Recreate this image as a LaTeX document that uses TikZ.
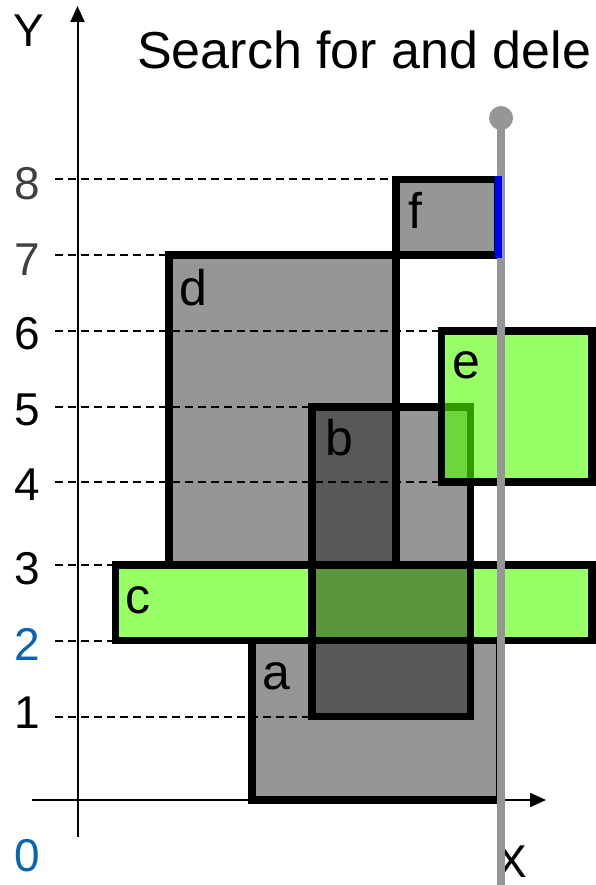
\documentclass[tikz,border=0pt]{standalone}
\usepackage{fontspec}
\setmainfont{Liberation Sans}
\usepackage{xcolor}
\usetikzlibrary{arrows.meta}

\definecolor{boxgray}{RGB}{150,150,150}
\definecolor{boxgreen}{RGB}{153,255,102}
\definecolor{seegreen}{RGB}{85,255,0}
\definecolor{axisblue}{RGB}{10,100,180}
\definecolor{sweepgray}{RGB}{150,150,150}

\begin{document}
\begin{tikzpicture}[x=1pt, y=-1pt,
  rect/.style={draw=black, line width=7.5pt, fill=#1},
  guide/.style={draw=black, line width=2pt, dash pattern=on 8pt off 5pt},
  axis/.style={line width=2pt, -{Triangle[length=16pt,width=14pt]}},
  num/.style={inner sep=0pt, font=\fontsize{46}{50}\selectfont},
  lbl/.style={inner sep=0pt, font=\fontsize{50}{55}\selectfont}
]
\useasboundingbox (0,0) rectangle (596,885);

% axes
\draw[axis] (77.5,837) -- (77.5,6);
\draw[axis] (32,800) -- (546,800);

% rectangles
\draw[rect=boxgray] (169,255) rectangle (396,565);
\draw[rect=boxgray] (252,640.5) rectangle (500,800);
\draw[rect=boxgray] (396,179.5) rectangle (498,255);
\draw[rect=boxgreen] (115.5,565) rectangle (592,640.5);
\begin{scope}[blend mode=multiply]
  \draw[rect=boxgray] (312,407) rectangle (470.5,716.5);
\end{scope}
\draw[rect=seegreen, fill opacity=0.6] (441.5,331) rectangle (592,482);

% guide lines
\foreach \yy/\xe in {179.5/396, 255/169, 331/441.5, 407/312, 482/441.5,
    565/115.5, 640.5/115.5, 716.5/312}
  \draw[guide] (55,\yy) -- (\xe,\yy);

% tick labels
\foreach \v/\yy/\col in {8/183.5/black!75, 7/260/black!75, 6/334/black,
    5/409.5/black, 4/485/black, 3/569/black, 2/644/axisblue,
    1/712.5/black, 0/856/axisblue}
  \node[num, text=\col] (n\v) at (27,\yy) {\v};
\node[num] (ylbl) at (28.5,31) {Y};
\node[num] (xlbl) at (512,862) {X};

% box letters
\node[lbl] (la) at (276.5,676) {a};
\node[lbl] (lb) at (339.5,437.5) {b};
\node[lbl] (lc) at (137.5,600.5) {c};
\node[lbl] (ld) at (193.5,287.5) {d};
\node[lbl] (le) at (466,365) {e};
\node[lbl] (lf) at (415.5,210) {f};

% sweep line
\draw[sweepgray, line width=8pt] (501,118) -- (501,885);
\fill[sweepgray] (501,118) circle (12pt);
\draw[blue, line width=7pt] (498,176) -- (498,258);

\node[anchor=base west, inner sep=0pt, font=\fontsize{52}{60}\selectfont]
  (title) at (137,69) {Search for and dele};
\end{tikzpicture}
\end{document}
